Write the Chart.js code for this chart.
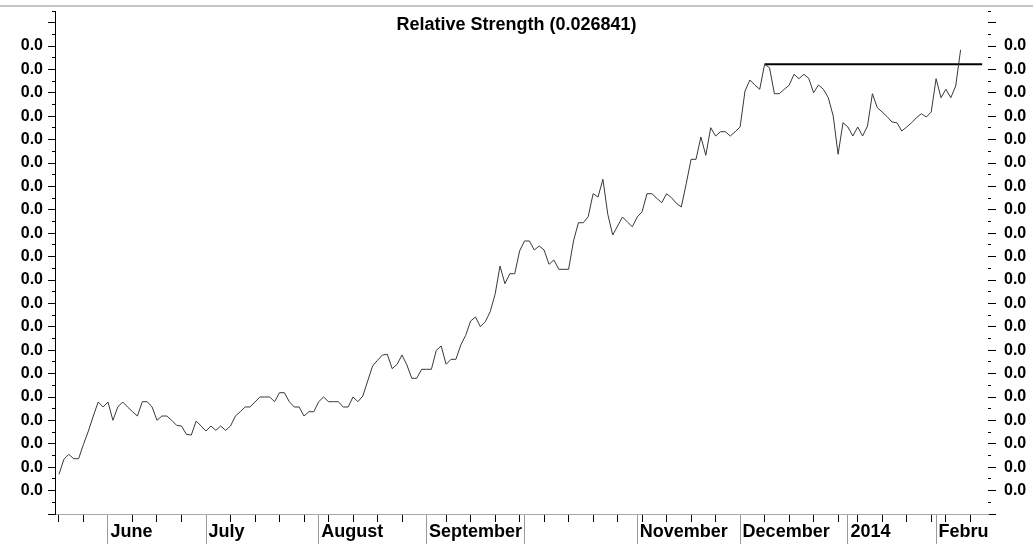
<!DOCTYPE html>
<html>
<head>
<meta charset="utf-8">
<script src="https://cdn.jsdelivr.net/npm/chart.js@4.4.1/dist/chart.umd.min.js"></script>
<style>
  html, body { margin: 0; padding: 0; background: #fff; overflow: hidden; }
  #wrap { position: relative; width: 1033px; height: 544px; }
  #topline { position: absolute; left: 0; top: 5px; width: 1033px; height: 2px; background: #c4c4c4; }
  canvas { position: absolute; left: 0; top: 0; }
</style>
</head>
<body>
<div id="wrap">
  <canvas id="chart" width="1033" height="544"></canvas>
  <div id="topline"></div>
</div>
<script>
// relative strength, one value per trading day (index 0 = first day shown)
const rs = [
  0.008697, 0.009338, 0.009551, 0.009363, 0.009363, 0.009979, 0.010547, 0.011188, 0.011787, 0.011574,
  0.011787, 0.011005, 0.011574, 0.011787, 0.011574, 0.011373, 0.011188, 0.011800, 0.011800, 0.011574,
  0.011005, 0.011188, 0.011188, 0.011005, 0.010791, 0.010761, 0.010406, 0.010376, 0.010975, 0.010761,
  0.010547, 0.010761, 0.010577, 0.010761, 0.010577, 0.010761, 0.011188, 0.011373, 0.011574, 0.011574,
  0.011787, 0.012001, 0.012001, 0.012001, 0.011800, 0.012185, 0.012185, 0.011800, 0.011574, 0.011574,
  0.011188, 0.011373, 0.011373, 0.011800, 0.012001, 0.011800, 0.011800, 0.011800, 0.011574, 0.011574,
  0.012001, 0.011800, 0.012043, 0.012685, 0.013326, 0.013570, 0.013796, 0.013826, 0.013211, 0.013399,
  0.013796, 0.013369, 0.012800, 0.012800, 0.013185, 0.013185, 0.013185, 0.013997, 0.014181, 0.013399,
  0.013612, 0.013612, 0.014223, 0.014638, 0.015249, 0.015420, 0.015006, 0.015219, 0.015647, 0.016390,
  0.017600, 0.016844, 0.017271, 0.017271, 0.018241, 0.018669, 0.018669, 0.018284, 0.018455, 0.018284,
  0.017673, 0.017857, 0.017459, 0.017459, 0.017459, 0.018669, 0.019451, 0.019451, 0.019707, 0.020690,
  0.020549, 0.021306, 0.019810, 0.018925, 0.019310, 0.019695, 0.019481, 0.019280, 0.019695, 0.019921,
  0.020690, 0.020690, 0.020494, 0.020306, 0.020690, 0.020520, 0.020280, 0.020122, 0.021118, 0.022161,
  0.022161, 0.023114, 0.022332, 0.023512, 0.023157, 0.023341, 0.023341, 0.023157, 0.023341, 0.023542,
  0.025080, 0.025551, 0.025337, 0.025153, 0.026222, 0.026076, 0.024965, 0.024965, 0.025153, 0.025324,
  0.025794, 0.025606, 0.025794, 0.025623, 0.025008, 0.025337, 0.025153, 0.024794, 0.024012, 0.022375,
  0.023726, 0.023542, 0.023157, 0.023542, 0.023157, 0.023584, 0.024965, 0.024367, 0.024183, 0.023982,
  0.023755, 0.023726, 0.023371, 0.023542, 0.023726, 0.023939, 0.024110, 0.023969, 0.024183, 0.025606,
  0.024794, 0.025153, 0.024794, 0.025294, 0.026841
];
const days = rs.map((v, i) => i);

// month boundaries (trading-day index) and their labels as shown
const monthStart = [10, 30, 53, 75, 95, 118, 139, 161, 179];
const monthLabel = ['June', 'July', 'August', 'September', '', 'November', 'December', '2014', 'Febru'];
// first trading day of each week
const weekStart = [0, 5, 15, 20, 25, 35, 40, 45, 50, 55, 60, 65, 70, 79, 84, 89, 94, 99, 104, 109,
  114, 119, 124, 129, 134, 144, 149, 154, 159, 163, 168, 173, 178, 181, 186];

// resistance line from the December high
const peakDay = 144;
const peakEnd = 188.4;

const FONT = "'Liberation Sans', Arial, Helvetica, sans-serif";
const xTicks = Array.from(new Set(weekStart.concat(monthStart))).sort((a, b) => a - b);

function yLabel(value) {
  const k = Math.round(value * 2000);
  if (k % 2 === 0 && k >= 16 && k <= 54) return value.toFixed(1);
  return '';
}
function isMinorY(ctx) {
  return ctx.tick && Math.round(ctx.tick.value * 2000) % 2 !== 0;
}
function noPad(s) {
  s.paddingTop = 0; s.paddingBottom = 0; s.paddingLeft = 0; s.paddingRight = 0;
}

new Chart(document.getElementById('chart'), {
  type: 'line',
  data: {
    datasets: [{
      data: days.map(i => ({ x: i, y: rs[i] })),
      borderColor: '#383838',
      borderWidth: 1,
      pointRadius: 0,
      tension: 0
    }, {
      data: [{ x: peakDay, y: rs[peakDay] }, { x: peakEnd, y: rs[peakDay] }],
      borderColor: '#000',
      borderWidth: 2,
      pointRadius: 0
    }]
  },
  options: {
    responsive: false,
    animation: false,
    devicePixelRatio: 1,
    layout: { padding: 0 },
    plugins: {
      legend: { display: false },
      tooltip: { enabled: false },
      title: {
        display: true,
        text: 'Relative Strength (0.026841)',
        color: '#000',
        font: { family: FONT, size: 18, weight: 'bold', lineHeight: 1 },
        padding: { top: 16, bottom: -23 }
      }
    },
    scales: {
      x: {
        type: 'linear',
        min: -0.816,
        max: 189.59,
        afterFit: s => { s.height = 30; noPad(s); },
        afterBuildTicks: s => { s.ticks = xTicks.map(v => ({ value: v })); },
        border: { color: '#a8a8a8', width: 1 },
        grid: {
          drawOnChartArea: false,
          tickLength: 30,
          tickColor: ctx => monthStart.includes(ctx.tick && ctx.tick.value) ? '#9a9a9a' : '#000',
          tickBorderDash: ctx => monthStart.includes(ctx.tick && ctx.tick.value) ? [] : [7, 60]
        },
        ticks: {
          autoSkip: false,
          maxRotation: 0,
          align: 'start',
          labelOffset: 2.5,
          padding: -23,
          color: '#000',
          font: { family: FONT, size: 18, weight: 'bold' },
          callback: v => {
            const k = monthStart.indexOf(v);
            return k >= 0 ? monthLabel[k] : '';
          }
        }
      },
      y: {
        position: 'left',
        min: 0.007,
        max: 0.0285,
        afterFit: s => { s.width = 55; noPad(s); },
        border: { color: '#000', width: 1 },
        grid: {
          drawOnChartArea: false,
          tickLength: 7,
          tickColor: '#000',
          tickBorderDash: ctx => isMinorY(ctx) ? [0, 4, 3, 40] : []
        },
        ticks: {
          stepSize: 0.0005,
          autoSkip: false,
          padding: 5,
          color: '#000',
          font: { family: FONT, size: 16, weight: 'bold' },
          callback: yLabel
        }
      },
      y2: {
        position: 'right',
        min: 0.007,
        max: 0.0285,
        afterFit: s => { s.width = 45; noPad(s); },
        border: { display: false },
        grid: {
          drawOnChartArea: false,
          tickLength: 8,
          tickColor: '#000',
          tickBorderDash: ctx => isMinorY(ctx) ? [3, 40] : []
        },
        ticks: {
          stepSize: 0.0005,
          autoSkip: false,
          padding: 8,
          color: '#000',
          font: { family: FONT, size: 16, weight: 'bold' },
          callback: yLabel
        }
      }
    }
  }
});
</script>
</body>
</html>
